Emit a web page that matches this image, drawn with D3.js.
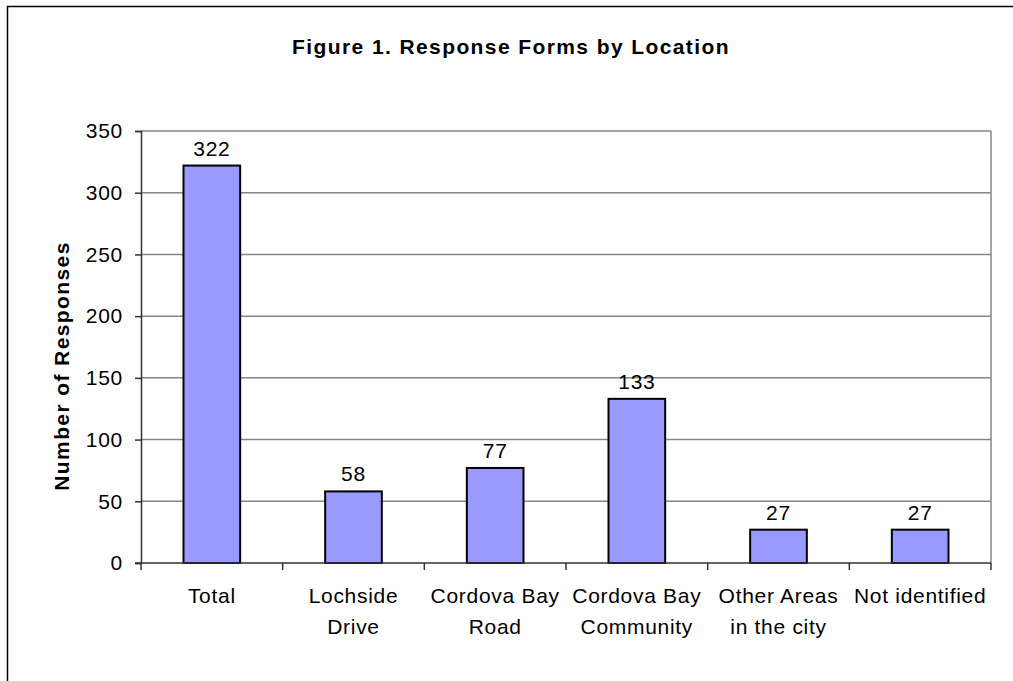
<!DOCTYPE html>
<html>
<head>
    <meta charset="UTF-8">
    <title>Response Forms by Location</title>
    <style>
        body { margin: 0; background: #fff; }
        svg { display: block; font-family: "Liberation Sans", Arial, sans-serif; }
        .lbl { font-size: 21px; letter-spacing: 0.7px; }
        .bold { font-size: 21px; font-weight: bold; letter-spacing: 1.4px; }
    </style>
    <script src="https://cdn.jsdelivr.net/npm/d3@7"></script>
</head>
<body>
<svg id="chart" width="1013" height="681"></svg>
<script>
    var categories = [["Total"], ["Lochside", "Drive"], ["Cordova Bay", "Road"],
        ["Cordova Bay", "Community"], ["Other Areas", "in the city"], ["Not identified"]];
    var values = [322, 58, 77, 133, 27, 27];
    var yTicks = [0, 50, 100, 150, 200, 250, 300, 350];

    var width = 1013, height = 681;
    var plotLeft = 141, plotRight = 991, plotTop = 131, plotBottom = 563;

    var svg = d3.select('#chart');

    // outer frame (runs off the right and bottom edges)
    svg.append('rect')
        .attr('x', 7.5).attr('y', 6.5)
        .attr('width', width + 20).attr('height', height + 20)
        .attr('fill', 'none').attr('stroke', '#000').attr('stroke-width', 1.5);

    var x = d3.scaleBand()
        .domain(d3.range(categories.length))
        .range([plotLeft, plotRight])
        .paddingInner(0.6).paddingOuter(0.3);

    var y = d3.scaleLinear().domain([0, 350]).range([plotBottom, plotTop]);

    // gridlines
    svg.append('g').selectAll('line')
        .data(yTicks.filter(function (d) { return d > 0; }))
        .enter().append('line')
        .attr('x1', plotLeft).attr('x2', plotRight)
        .attr('y1', function (d) { return y(d); })
        .attr('y2', function (d) { return y(d); })
        .attr('stroke', '#868686').attr('stroke-width', 1.5);

    // right border of plot area
    svg.append('line')
        .attr('x1', plotRight).attr('x2', plotRight)
        .attr('y1', plotTop).attr('y2', plotBottom)
        .attr('stroke', '#868686').attr('stroke-width', 1.5);

    // bars
    svg.append('g').selectAll('rect')
        .data(values)
        .enter().append('rect')
        .attr('x', function (d, i) { return x(i); })
        .attr('y', function (d) { return y(d); })
        .attr('width', x.bandwidth())
        .attr('height', function (d) { return y(0) - y(d); })
        .attr('fill', '#9999ff')
        .attr('stroke', '#000').attr('stroke-width', 2);

    // value labels
    svg.append('g').selectAll('text')
        .data(values)
        .enter().append('text')
        .attr('class', 'lbl')
        .attr('x', function (d, i) { return x(i) + x.bandwidth() / 2; })
        .attr('y', function (d) { return y(d) - 10; })
        .attr('text-anchor', 'middle')
        .text(function (d) { return d; });

    // y axis
    var yAxis = d3.axisLeft(y).tickValues(yTicks).tickSize(6).tickPadding(12);
    var gy = svg.append('g').attr('transform', 'translate(' + plotLeft + ',0)').call(yAxis);
    gy.select('.domain').attr('stroke', '#333').attr('stroke-width', 1.5);
    gy.selectAll('.tick line').attr('stroke', '#333').attr('stroke-width', 1.5);
    gy.selectAll('.tick text').attr('class', 'lbl').attr('fill', '#000');
    gy.attr('font-size', null).attr('font-family', null);

    // x axis baseline and ticks between categories
    svg.append('line')
        .attr('x1', plotLeft - 6).attr('x2', plotRight)
        .attr('y1', plotBottom).attr('y2', plotBottom)
        .attr('stroke', '#333').attr('stroke-width', 1.5);

    var step = (plotRight - plotLeft) / categories.length;
    svg.append('g').selectAll('line')
        .data(d3.range(categories.length + 1))
        .enter().append('line')
        .attr('x1', function (i) { return plotLeft + i * step; })
        .attr('x2', function (i) { return plotLeft + i * step; })
        .attr('y1', plotBottom).attr('y2', plotBottom + 7)
        .attr('stroke', '#333').attr('stroke-width', 1.5);

    // category labels
    var cat = svg.append('g').selectAll('text')
        .data(categories)
        .enter().append('text')
        .attr('class', 'lbl')
        .attr('text-anchor', 'middle')
        .attr('x', function (d, i) { return x(i) + x.bandwidth() / 2; })
        .attr('y', 603);
    cat.selectAll('tspan')
        .data(function (d) { return d; })
        .enter().append('tspan')
        .attr('x', function () { return d3.select(this.parentNode).attr('x'); })
        .attr('dy', function (d, i) { return i === 0 ? 0 : 30.5; })
        .text(function (d) { return d; });

    // y axis title
    svg.append('text')
        .attr('class', 'bold')
        .attr('transform', 'translate(69,366) rotate(-90)')
        .attr('text-anchor', 'middle')
        .text('Number of Responses');

    // chart title
    svg.append('text')
        .attr('class', 'bold')
        .attr('x', 511).attr('y', 54)
        .attr('text-anchor', 'middle')
        .text('Figure 1. Response Forms by Location');
</script>
</body>
</html>
